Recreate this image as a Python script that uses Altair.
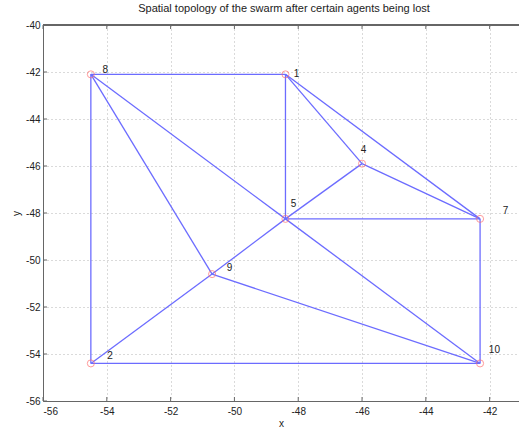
import altair as alt
import pandas as pd

# Agent positions that remain in the swarm
node_id = [1, 2, 4, 5, 7, 8, 9, 10]
node_x = [-48.4, -54.5, -46.0, -48.4, -42.3, -54.5, -50.7, -42.3]
node_y = [-42.1, -54.4, -45.9, -48.25, -48.25, -42.1, -50.6, -54.4]

# Where each agent's number is written
label_x = [-48.05, -53.9, -45.95, -48.15, -41.5, -54.05, -50.15, -41.85]
label_y = [-42.1, -54.1, -45.3, -47.6, -47.9, -41.9, -50.35, -53.85]

# Communication links between agents
edge_from = [8, 8, 8, 8, 1, 1, 1, 4, 4, 5, 5, 5, 7, 9, 9, 2]
edge_to = [1, 2, 9, 5, 5, 4, 7, 5, 7, 7, 9, 10, 10, 2, 10, 10]

x_ticks = [-56, -54, -52, -50, -48, -46, -44, -42]
y_ticks = [-56, -54, -52, -50, -48, -46, -44, -42, -40]

X_DOMAIN = [-56, -41.08]
Y_DOMAIN = [-56, -40]
W, H = 476, 376

pos = {n: (x, y) for n, x, y in zip(node_id, node_x, node_y)}
nodes = pd.DataFrame({"id": node_id, "x": node_x, "y": node_y,
                      "lx": label_x, "ly": label_y})
edges = pd.DataFrame({
    "x": [pos[a][0] for a in edge_from],
    "y": [pos[a][1] for a in edge_from],
    "x2": [pos[b][0] for b in edge_to],
    "y2": [pos[b][1] for b in edge_to],
})

label_expr = "'' + datum.value"
xs = alt.Scale(domain=X_DOMAIN, nice=False, zero=False)
ys = alt.Scale(domain=Y_DOMAIN, nice=False, zero=False)

x_axis = alt.Axis(values=x_ticks, labelExpr=label_expr, title="x",
                  grid=True, gridDash=[1, 3], gridColor="#b4b4b4",
                  tickSize=0, labelPadding=5, domainColor="#666666",
                  titlePadding=2)
y_axis = alt.Axis(values=y_ticks, labelExpr=label_expr, title="y",
                  grid=True, gridDash=[1, 3], gridColor="#b4b4b4",
                  tickSize=0, labelPadding=3, domainColor="#666666",
                  titlePadding=4)

links = alt.Chart(edges).mark_rule(color="#6c6cff", strokeWidth=1.3).encode(
    x=alt.X("x:Q", scale=xs, axis=x_axis),
    y=alt.Y("y:Q", scale=ys, axis=y_axis),
    x2="x2:Q",
    y2="y2:Q",
)

agents = alt.Chart(nodes).mark_point(
    shape="circle", size=50, color="#ff7070", strokeWidth=1, filled=False
).encode(x=alt.X("x:Q", scale=xs), y=alt.Y("y:Q", scale=ys))

numbers = alt.Chart(nodes).mark_text(
    fontSize=10, font="Liberation Sans", color="#222222",
    align="center", baseline="middle"
).encode(x=alt.X("lx:Q", scale=xs), y=alt.Y("ly:Q", scale=ys),
         text="id:N")

# Inward tick marks on the frame
tick_x = pd.DataFrame({"v": x_ticks})
tick_y = pd.DataFrame({"v": y_ticks})
ticks_bottom = alt.Chart(tick_x).mark_rule(color="#666666").encode(
    x=alt.X("v:Q", scale=xs), y=alt.value(H), y2=alt.value(H - 4))
ticks_top = alt.Chart(tick_x).mark_rule(color="#666666").encode(
    x=alt.X("v:Q", scale=xs), y=alt.value(0), y2=alt.value(4))
ticks_left = alt.Chart(tick_y).mark_rule(color="#666666").encode(
    y=alt.Y("v:Q", scale=ys), x=alt.value(0), x2=alt.value(4))
top_frame = alt.Chart(tick_x).mark_rule(color="#666666").encode(
    x=alt.value(0), x2=alt.value(W), y=alt.value(0))

chart = alt.layer(
    links, agents, numbers, ticks_bottom, ticks_top, ticks_left, top_frame
).properties(
    width=W, height=H,
    title=alt.TitleParams(
        "Spatial topology of the swarm after certain agents being lost",
        fontSize=11, font="Liberation Sans", fontWeight="normal",
        color="#222222", offset=6, dx=3),
    autosize=alt.AutoSizeParams(type="none"),
    padding={"left": 43, "top": 25, "right": 0, "bottom": 26},
    background="white",
).configure_view(
    strokeWidth=0
).configure_axis(
    labelFont="Liberation Sans", labelFontSize=10, labelColor="#222222",
    titleFont="Liberation Sans", titleFontSize=10, titleFontWeight="normal",
    titleColor="#222222",
)

chart.save("out.html", embed_options={"renderer": "svg", "actions": False})
